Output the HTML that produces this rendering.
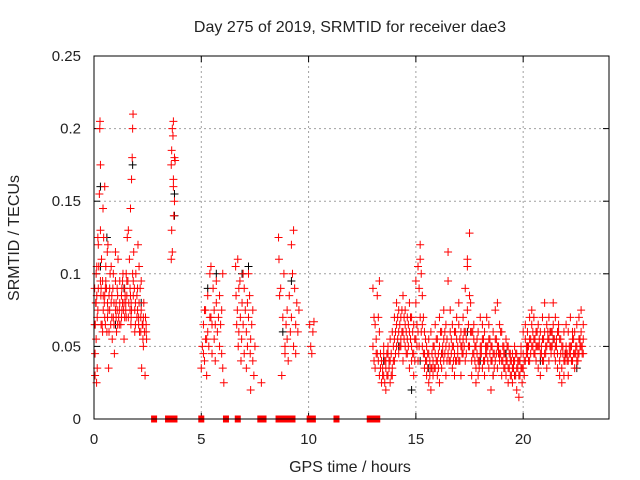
<!DOCTYPE html>
<html><head><meta charset="utf-8"><style>
html,body{margin:0;padding:0;background:#fff;}
svg{display:block;font-family:"Liberation Sans",sans-serif;}
</style></head><body>
<svg id="chart" width="640" height="480">
<text x="350" y="32" text-anchor="middle" font-size="16" fill="#222">Day 275 of 2019, SRMTID for receiver dae3</text>
<text x="350" y="472" text-anchor="middle" font-size="16" fill="#222">GPS time / hours</text>
<text transform="translate(19,238) rotate(-90)" text-anchor="middle" font-size="16" fill="#222">SRMTID / TECUs</text>
<g id="grid"></g><g id="marks"></g>
<rect x="94" y="56" width="515" height="363" fill="none" stroke="#000" stroke-width="1"/>
</svg>
<script>
const xTicks=[0,5,10,15,20];
const yTicks=[0,0.05,0.1,0.15,0.2,0.25];
const yTickLabels=["0","0.05","0.1","0.15","0.2","0.25"];
const redTimes=[0.05,0.06,0.08,0.1,0.12,0.15,0.2,0.22,0.25,0.27,0.28,0.3,0.32,0.35,0.38,0.4,0.42,0.45,0.48,0.5,0.55,0.58,0.6,0.62,0.65,0.68,0.7,0.75,0.78,0.8,0.85,0.88,0.9,0.95,1.0,1.05,1.1,1.12,1.15,1.2,1.25,1.3,1.35,1.38,1.4,1.45,1.5,1.55,1.58,1.6,1.62,1.65,1.7,1.72,1.75,1.78,1.8,1.82,1.85,1.88,1.9,1.95,2.0,2.05,2.1,2.12,2.15,2.2,2.22,2.25,2.3,2.32,2.35,2.38,2.4,2.45,
3.6,3.62,3.65,3.68,3.7,3.72,3.75,3.78,
5.0,5.05,5.1,5.15,5.2,5.25,5.3,5.35,5.4,5.45,5.5,5.55,5.6,5.65,5.7,5.75,5.8,5.85,5.9,5.95,6.0,6.05,
6.6,6.62,6.65,6.68,6.7,6.72,6.75,6.8,6.82,6.85,6.88,6.9,6.95,7.0,7.05,7.1,7.15,7.2,7.25,7.28,7.3,7.35,7.4,7.45,7.5,7.8,
8.6,8.62,8.65,8.7,8.75,8.8,8.85,8.9,8.95,9.0,9.05,9.1,9.15,9.2,9.25,9.3,9.35,9.4,9.45,9.5,9.55,
10.05,10.1,10.15,10.2,10.25,
13.0,13.1,13.2,13.3,13.4,13.5,13.6,13.7,13.8,13.9,14.0,14.1,14.2,14.3,14.4,14.5,14.6,14.7,14.8,14.9,15.0,15.1,15.2,15.3,15.4,15.5,15.6,15.7,15.8,15.9,16.0,16.1,16.2,16.3,16.4,16.5,16.6,16.7,16.8,16.9,17.0,17.1,17.2,17.3,17.4,17.5,17.6,17.7,17.8,17.9,18.0,18.1,18.2,18.3,18.4,18.5,18.6,18.7,18.8,18.9,19.0,19.1,19.2,19.3,19.4,19.5,19.6,19.7,19.8,19.9,20.0,20.1,20.2,20.3,20.4,20.5,20.6,20.7,20.8,20.9,21.0,21.1,21.2,21.3,21.4,21.5,21.6,21.7,21.8,21.9,22.0,22.1,22.2,22.3,22.4,22.5,22.6,22.7,22.8];
const redValues=[[0.03,0.045],[0.065],[0.08],[0.1,0.055,0.08],[0.025],[0.035,0.07],[0.09,0.12],[0.105],[0.155],[0.2],[0.205],[0.175,0.13,0.095],[0.085],[0.11],[0.065],[0.095,0.06],[0.145],[0.125],[0.08],[0.16,0.07,0.085],[0.105,0.095],[0.09],[0.06],[0.115],[0.075,0.12],[0.035],[0.085,0.06],[0.1],[0.065],[0.08,0.105],[0.055],[0.09],[0.07,0.1],[0.045],[0.075,0.095,0.115],[0.06],[0.085,0.065],[0.11],[0.07],[0.08,0.095],[0.065],[0.09,0.075],[0.1],[0.075],[0.055,0.08],[0.085],[0.07,0.1],[0.125],[0.095],[0.13,0.07],[0.08],[0.11],[0.145,0.085],[0.065],[0.165,0.075],[0.18],[0.2,0.1],[0.21],[0.115],[0.09],[0.075,0.06],[0.1],[0.07,0.085],[0.12],[0.105,0.08],[0.06],[0.09],[0.075,0.095],[0.035],[0.065],[0.05,0.07],[0.08],[0.06],[0.03],[0.07],[0.055],
[0.11,0.175],[0.13,0.185],[0.115,0.2],[0.195],[0.205,0.165,0.16],[0.14],[0.15,0.18],[0.178],
[0.035],[0.05],[0.045,0.065],[0.04,0.075],[0.055,0.075],[0.03,0.055],[0.06,0.085],[0.05],[0.1,0.07],[0.105,0.07],[0.065,0.045],[0.09],[0.075,0.055],[0.04,0.065],[0.08,0.095],[0.06],[0.07],[0.085,0.05],[0.065],[0.075,0.045],[0.035,0.1],[0.025],
[0.105],[0.085],[0.065],[0.075],[0.11],[0.05],[0.06,0.09],[0.095],[0.07],[0.04],[0.055],[0.08],[0.065,0.1],[0.045,0.09],[0.075],[0.06,0.035],[0.05,0.08],[0.07,0.1],[0.085],[0.045],[0.055,0.02],[0.065],[0.04,0.075],[0.03],[0.05],[0.025],
[0.125],[0.11],[0.085],[0.09],[0.03],[0.07],[0.1],[0.05,0.045],[0.065],[0.075,0.055],[0.04],[0.085],[0.06],[0.12,0.07],[0.1],[0.13,0.05],[0.09],[0.065,0.045],[0.08],[0.06],[0.075],
[0.065],[0.05],[0.045],[0.06],[0.067],
[0.05,0.09],[0.035,0.065],[0.045,0.085],[0.03,0.095,0.06],[0.025,0.04],[0.03,0.045,0.05],[0.02,0.035,0.04],[0.03,0.05,0.045],[0.025,0.04,0.055],[0.035,0.06,0.03],[0.04,0.055,0.07],[0.05,0.065,0.08],[0.045,0.06,0.075],[0.055,0.07,0.05],[0.06,0.085,0.04],[0.065,0.05,0.075],[0.055,0.045,0.07],[0.06,0.08,0.035],[0.05,0.07,0.04],[0.045,0.065,0.03],[0.055,0.08,0.095],[0.06,0.105,0.04],[0.11,0.12,0.07],[0.085,0.05,0.065],[0.045,0.035,0.06],[0.03,0.05,0.04],[0.025,0.045,0.055],[0.035,0.06,0.02],[0.04,0.05,0.03],[0.045,0.065,0.035],[0.03,0.055,0.04],[0.05,0.07,0.025],[0.035,0.045,0.06],[0.055,0.04,0.075],[0.03,0.05,0.065],[0.115,0.095,0.045],[0.06,0.04,0.075],[0.035,0.05,0.065],[0.045,0.06,0.03],[0.055,0.07,0.04],[0.04,0.065,0.08],[0.05,0.03,0.06],[0.045,0.07,0.055],[0.06,0.09,0.04],[0.105,0.11,0.075],[0.128,0.085,0.05],[0.04,0.06,0.03],[0.045,0.055,0.065],[0.035,0.05,0.025],[0.04,0.06,0.03],[0.05,0.07,0.045],[0.035,0.055,0.065],[0.04,0.06,0.03],[0.045,0.07,0.05],[0.055,0.035,0.065],[0.04,0.02,0.05],[0.045,0.06,0.03],[0.055,0.075,0.04],[0.035,0.05,0.08],[0.045,0.065,0.04],[0.04,0.06,0.03],[0.05,0.035,0.045],[0.03,0.04,0.055],[0.035,0.05,0.025],[0.04,0.03,0.045],[0.045,0.035,0.025],[0.03,0.04,0.05],[0.02,0.035,0.045],[0.015,0.04,0.03],[0.05,0.035,0.045],[0.045,0.06,0.035],[0.04,0.055,0.065],[0.05,0.06,0.045],[0.04,0.07,0.055],[0.065,0.05,0.075],[0.055,0.045,0.07],[0.04,0.06,0.05],[0.05,0.065,0.035],[0.045,0.03,0.06],[0.055,0.04,0.07],[0.06,0.045,0.08],[0.05,0.065,0.035],[0.055,0.04,0.07],[0.045,0.06,0.05],[0.065,0.055,0.08],[0.05,0.07,0.04],[0.045,0.06,0.035],[0.04,0.055,0.03],[0.035,0.05,0.025],[0.04,0.06,0.03],[0.05,0.045,0.065],[0.04,0.06,0.03],[0.05,0.07,0.045],[0.055,0.04,0.06],[0.045,0.06,0.035],[0.05,0.065,0.04],[0.055,0.045,0.07],[0.05,0.06,0.075],[0.045,0.055,0.065]];
const redTimes2=[0.03,0.13,0.18,0.33,0.43,0.53,0.63,0.73,0.83,0.93,1.03,1.08,1.18,1.28,1.33,1.43,1.48,1.53,1.68,1.73,1.83,1.93,2.03,2.08,2.18,2.28,2.43,
13.05,13.15,13.25,13.35,13.45,13.55,13.65,13.75,13.85,13.95,14.05,14.15,14.25,14.35,14.45,14.55,14.65,14.75,14.85,14.95,15.05,15.15,15.25,15.35,15.45,15.55,15.65,15.75,15.85,15.95,16.05,16.15,16.25,16.35,16.45,16.55,16.65,16.75,16.85,16.95,17.05,17.15,17.25,17.35,17.45,17.55,17.65,17.75,17.85,17.95,18.05,18.15,18.25,18.35,18.45,18.55,18.65,18.75,18.85,18.95,19.05,19.15,19.25,19.35,19.45,19.55,19.65,19.75,19.85,19.95,20.05,20.15,20.25,20.35,20.45,20.55,20.65,20.75,20.85,20.95,21.05,21.15,21.25,21.35,21.45,21.55,21.65,21.75,21.85,21.95,22.05,22.15,22.25,22.35,22.45,22.55,22.65,22.75];
const redValues2=[[0.065,0.09],[0.105,0.085],[0.125,0.075],[0.09,0.065],[0.085,0.075],[0.09,0.065],[0.08,0.07],[0.075,0.09],[0.07,0.085],[0.065,0.08],[0.08,0.07],[0.09,0.075],[0.075,0.065],[0.085,0.07],[0.08,0.095],[0.07,0.09],[0.08,0.075],[0.095,0.085],[0.075,0.09],[0.08,0.07],[0.085,0.095],[0.08,0.065],[0.075,0.09],[0.065,0.07],[0.07,0.06],[0.065,0.055],[0.06,0.065],
[0.07,0.04],[0.055,0.045],[0.04,0.07],[0.045,0.035],[0.035,0.03],[0.04,0.025],[0.03,0.045],[0.04,0.035],[0.045,0.03],[0.05,0.04],[0.06,0.045],[0.07,0.055],[0.065,0.05],[0.06,0.075],[0.07,0.055],[0.06,0.045],[0.065,0.05],[0.055,0.07],[0.045,0.06],[0.055,0.04],[0.065,0.05],[0.09,0.05],[0.1,0.06],[0.07,0.045],[0.04,0.055],[0.035,0.045],[0.04,0.03],[0.045,0.035],[0.035,0.05],[0.04,0.055],[0.045,0.035],[0.04,0.06],[0.05,0.045],[0.045,0.06],[0.04,0.055],[0.05,0.04],[0.045,0.055],[0.05,0.04],[0.04,0.06],[0.05,0.045],[0.055,0.04],[0.05,0.045],[0.06,0.05],[0.055,0.045],[0.065,0.05],[0.08,0.06],[0.06,0.045],[0.05,0.04],[0.045,0.055],[0.04,0.035],[0.045,0.05],[0.04,0.055],[0.045,0.05],[0.05,0.04],[0.045,0.055],[0.04,0.05],[0.035,0.045],[0.045,0.055],[0.05,0.045],[0.045,0.06],[0.04,0.05],[0.045,0.035],[0.04,0.05],[0.035,0.045],[0.04,0.03],[0.035,0.04],[0.03,0.045],[0.035,0.04],[0.03,0.04],[0.025,0.035],[0.04,0.03],[0.045,0.05],[0.05,0.04],[0.045,0.055],[0.05,0.06],[0.055,0.045],[0.06,0.05],[0.05,0.055],[0.045,0.05],[0.04,0.055],[0.05,0.045],[0.055,0.06],[0.06,0.05],[0.05,0.06],[0.045,0.055],[0.055,0.05],[0.06,0.065],[0.055,0.045],[0.05,0.045],[0.045,0.04],[0.04,0.045],[0.045,0.05],[0.05,0.04],[0.045,0.055],[0.05,0.045],[0.045,0.04],[0.05,0.055],[0.045,0.05],[0.05,0.055],[0.055,0.05],[0.05,0.06]];
const blackTimes=[0.3,0.6,1.0,1.4,1.8,2.2,3.75,5.3,5.7,6.9,7.2,8.8,9.2,13.5,14.2,14.8,15.2,15.6,16.2,16.8,17.4,18.0,18.6,19.2,19.6,20.2,20.8,21.4,22.0,22.5];
const blackValues=[[0.105,0.16],[0.125],[0.065],[0.09],[0.175],[0.08],[0.14,0.155],[0.09],[0.1],[0.1],[0.105],[0.06],[0.095],[0.04],[0.05],[0.02],[0.04],[0.035],[0.045],[0.03],[0.06],[0.04],[0.03],[0.045],[0.03],[0.05],[0.04],[0.055],[0.045],[0.035]];
const zeroTimes=[2.8,3.45,3.55,3.65,3.75,5.0,6.15,6.7,7.75,7.9,8.6,8.8,9.05,9.25,10.05,10.2,11.3,12.85,13.05,13.2];

const NS="http://www.w3.org/2000/svg";
const X0=94,X1=609,Y0=419,Y1=56;
function xs(t){return X0+(X1-X0)*t/24;}
function ys(v){return Y0-(Y0-Y1)*v/0.25;}
const grid=document.getElementById('grid'),marks=document.getElementById('marks');
function el(tag,attrs,parent){const e=document.createElementNS(NS,tag);for(const k in attrs)e.setAttribute(k,attrs[k]);parent.appendChild(e);return e;}
xTicks.forEach(t=>{
  const x=xs(t);
  if(t>0){const g=el('line',{x1:x,y1:Y1,x2:x,y2:Y0,stroke:'#a0a0a0','stroke-dasharray':'2,3'},grid);
  
  }
  el('line',{x1:x,y1:Y0,x2:x,y2:Y0-6,stroke:'#000'},grid);
  el('line',{x1:x,y1:Y1,x2:x,y2:Y1+6,stroke:'#000'},grid);
  const lb=el('text',{x:x,y:444,'text-anchor':'middle','font-size':'15',fill:'#222'},grid);lb.textContent=String(t);
  
  
});
yTicks.forEach((v,i)=>{
  const y=ys(v);
  if(i>0&&i<yTicks.length-1){const g=el('line',{x1:X0,y1:y,x2:X1,y2:y,stroke:'#a0a0a0','stroke-dasharray':'2,3'},grid);
  
  }
  el('line',{x1:X0,y1:y,x2:X0+6,y2:y,stroke:'#000'},grid);
  el('line',{x1:X1,y1:y,x2:X1-6,y2:y,stroke:'#000'},grid);
  const lb=el('text',{x:81,y:y+5,'text-anchor':'end','font-size':'15',fill:'#222'},grid);lb.textContent=yTickLabels[i];
  
  
});
function plus(t,v,color,name){
  const x=xs(t),y=ys(v);
  const p=el('path',{d:`M${x-4} ${y}H${x+4}M${x} ${y-4}V${y+4}`,stroke:color,'stroke-width':'1',fill:'none'},marks);
  
  
}
blackTimes.forEach((t,i)=>blackValues[i].forEach(v=>plus(t,v,'#000','black-point')));
redTimes.forEach((t,i)=>redValues[i].forEach(v=>plus(t,v,'#ff0000','red-point')));
redTimes2.forEach((t,i)=>redValues2[i].forEach(v=>plus(t,v,'#ff0000','red-point')));
zeroTimes.forEach(t=>{
  const r=el('rect',{x:xs(t)-3,y:Y0-3.5,width:6,height:7,fill:'#ff0000'},marks);
  
  
});
</script>
</body></html>
